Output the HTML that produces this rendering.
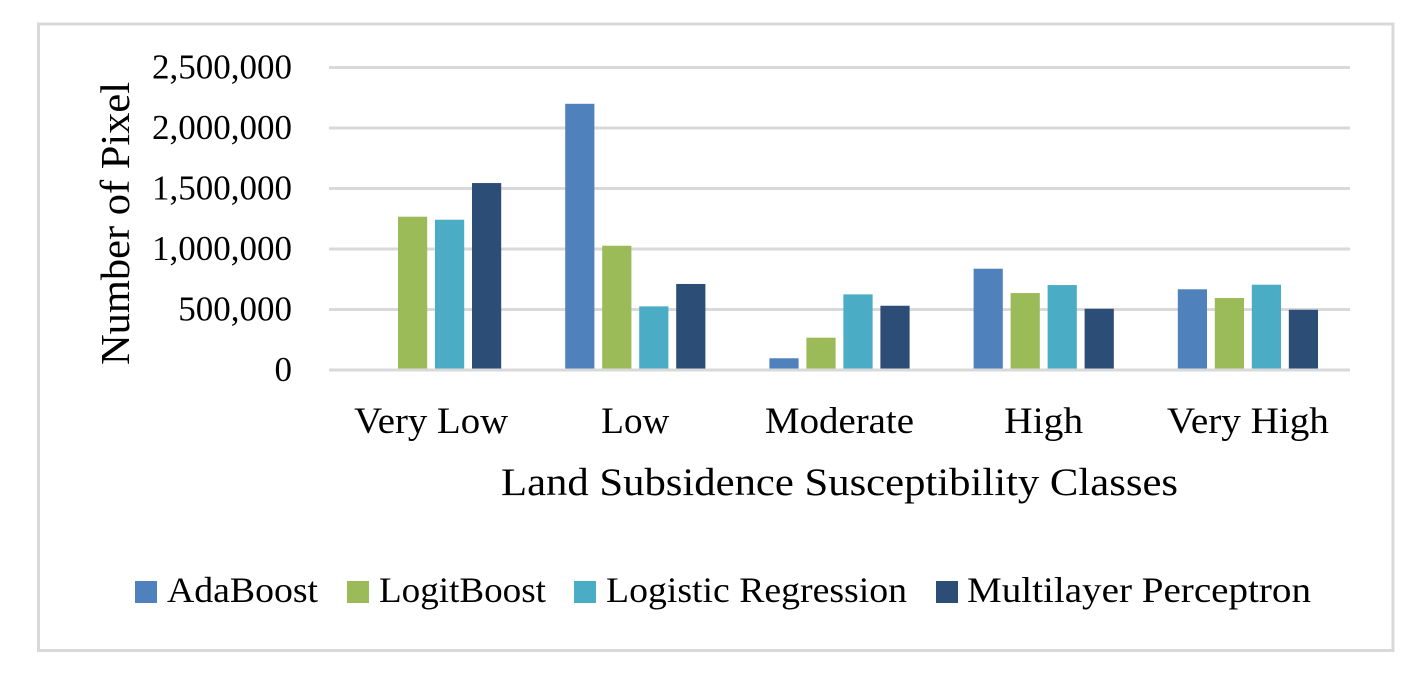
<!DOCTYPE html>
<html lang="en">
<head>
<meta charset="utf-8">
<title>Land Subsidence Susceptibility Classes</title>
<style>
  html, body { margin: 0; padding: 0; background: #fff; }
  body { width: 1428px; height: 680px; overflow: hidden; }
  svg { display: block; }
  text { font-family: "Liberation Serif", serif; fill: #000; }
</style>
</head>
<body>
<svg id="chart" xmlns="http://www.w3.org/2000/svg" width="1428" height="680" viewBox="0 0 1428 680">
  <rect x="38.5" y="24" width="1354.5" height="626.5" fill="#ffffff" stroke="#d9d9d9" stroke-width="3"/>
  <g id="grid"></g>
  <g id="bars"></g>
  <g id="baseline"></g>
  <g id="yticks"></g>
  <g id="xticks"></g>
  <text transform="translate(129,365) rotate(-90)" font-size="41" textLength="283" lengthAdjust="spacingAndGlyphs">Number of Pixel</text>
  <text x="501" y="495" font-size="39" textLength="677" lengthAdjust="spacingAndGlyphs">Land Subsidence Susceptibility Classes</text>
  <g>
    <g>
      <rect x="135" y="581" width="22" height="22" fill="#4f81bd"/>
      <text x="167" y="602" font-size="36" textLength="151" lengthAdjust="spacingAndGlyphs">AdaBoost</text>
    </g>
    <g>
      <rect x="347" y="581" width="22" height="22" fill="#9bbb59"/>
      <text x="379" y="602" font-size="36" textLength="167" lengthAdjust="spacingAndGlyphs">LogitBoost</text>
    </g>
    <g>
      <rect x="574" y="581" width="22" height="22" fill="#4bacc6"/>
      <text x="606" y="602" font-size="36" textLength="301" lengthAdjust="spacingAndGlyphs">Logistic Regression</text>
    </g>
    <g>
      <rect x="936" y="581" width="22" height="22" fill="#2c4d75"/>
      <text x="967" y="602" font-size="36" textLength="344" lengthAdjust="spacingAndGlyphs">Multilayer Perceptron</text>
    </g>
  </g>
</svg>
<script>
const categories = ["Very Low", "Low", "Moderate", "High", "Very High"];
const yTicks = [0, 500000, 1000000, 1500000, 2000000, 2500000];
const yTickLabels = ["0", "500,000", "1,000,000", "1,500,000", "2,000,000", "2,500,000"];
const adaBoost = [0, 2200000, 97000, 837000, 667000];
const logitBoost = [1267000, 1027000, 267000, 636000, 595000];
const logisticRegression = [1242000, 526000, 625000, 702000, 705000];
const multilayerPerceptron = [1545000, 711000, 531000, 506000, 498000];

const seriesValues = [adaBoost, logitBoost, logisticRegression, multilayerPerceptron];
const seriesKeys = ["adaboost", "logitboost", "logistic-regression", "multilayer-perceptron"];
const seriesColors = ["#4f81bd", "#9bbb59", "#4bacc6", "#2c4d75"];
const categoryLabelWidth = { "Very Low": 154, "Low": 68, "Moderate": 149, "High": 79, "Very High": 162 };

const SVG_NS = "http://www.w3.org/2000/svg";
const plotLeft = 329, plotRight = 1350, plotBottom = 370, plotTop = 67.5, yMax = 2500000;
const bandWidth = (plotRight - plotLeft) / categories.length;
const barWidth = 29.2, barPitch = 37;

function yScale(v) { return plotBottom - (v / yMax) * (plotBottom - plotTop); }
function xBand(i) { return plotLeft + i * bandWidth; }
function xBar(i, s) {
  const groupWidth = barPitch * (seriesValues.length - 1) + barWidth;
  return xBand(i) + (bandWidth - groupWidth) / 2 + s * barPitch;
}
function make(tag, attrs, parent) {
  const el = document.createElementNS(SVG_NS, tag);
  for (const k in attrs) el.setAttribute(k, attrs[k]);
  parent.appendChild(el);
  return el;
}

const gridGroup = document.getElementById("grid");
const barsGroup = document.getElementById("bars");
const baselineGroup = document.getElementById("baseline");
const yTickGroup = document.getElementById("yticks");
const xTickGroup = document.getElementById("xticks");

yTicks.forEach(function (t, i) {
  const parent = t === 0 ? baselineGroup : gridGroup;
  const line = make("line", { x1: plotLeft, x2: plotRight, y1: yScale(t), y2: yScale(t), stroke: "#d9d9d9", "stroke-width": 3 }, parent);
  
  
  const label = make("text", { x: 292, y: yScale(t) + 11, "text-anchor": "end", "font-size": 35 }, yTickGroup);
  
  
  label.textContent = yTickLabels[i];
});

categories.forEach(function (c, i) {
  const w = categoryLabelWidth[c];
  const label = make("text", { x: xBand(i) + bandWidth / 2 - w / 2, y: 433, "font-size": 37, textLength: w, lengthAdjust: "spacingAndGlyphs" }, xTickGroup);
  
  
  label.textContent = c;
});

seriesValues.forEach(function (values, s) {
  values.forEach(function (v, i) {
    if (v <= 0) return;
    const bar = make("rect", { x: xBar(i, s), y: yScale(v), width: barWidth, height: plotBottom - yScale(v), fill: seriesColors[s] }, barsGroup);
    
    
  });
});
</script>
</body>
</html>
